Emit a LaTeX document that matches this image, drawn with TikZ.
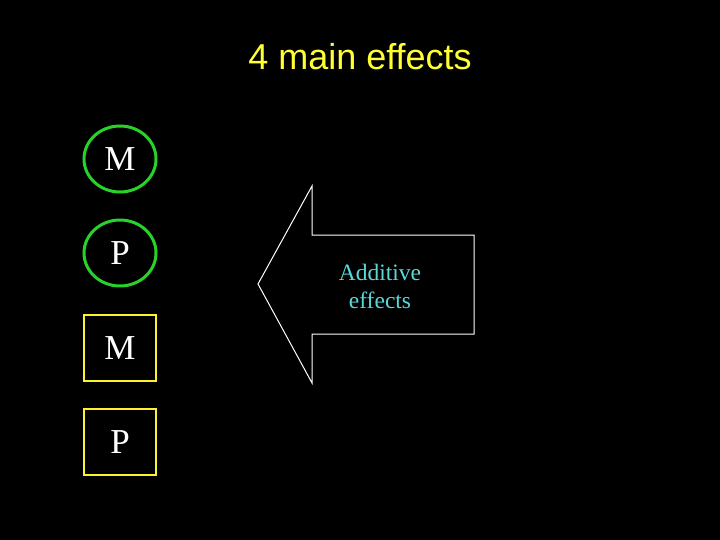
\documentclass[tikz,border=0pt]{standalone}
\usepackage{fontspec}
\setmainfont{Liberation Serif}
\newfontfamily\arialfont{Liberation Sans}
\definecolor{titley}{RGB}{255,255,51}
\definecolor{ringg}{RGB}{40,210,40}
\definecolor{boxy}{RGB}{255,240,50}
\definecolor{turq}{RGB}{90,215,215}
\begin{document}
\begin{tikzpicture}[x=1pt,y=-1pt,
  lettertxt/.style={text=white,font=\fontsize{35}{38}\selectfont,inner sep=0pt}]
\fill[black] (0,0) rectangle (720,540);
\useasboundingbox (0,0) rectangle (720,540);
\node[text=titley,font=\arialfont\fontsize{36}{40}\selectfont,anchor=base] (title) at (360,70) {4 main effects};
\draw[ringg,line width=3pt] (120,159) ellipse [x radius=36, y radius=33];
\node[lettertxt] (m1) at (120,159) {M};
\draw[ringg,line width=3pt] (120,253) ellipse [x radius=36, y radius=33];
\node[lettertxt] (p1) at (120,253) {P};
\draw[boxy,line width=2.5pt] (84,315) rectangle (156,381);
\node[lettertxt] (m2) at (120,348) {M};
\draw[boxy,line width=2.5pt] (84,409) rectangle (156,475);
\node[lettertxt] (p2) at (120,442) {P};
\draw[white,line width=1pt,line join=miter] (258,284) -- (312,186) -- (312,235) -- (474,235) -- (474,334) -- (312,334) -- (312,383) -- cycle;
\node[text=turq,font=\fontsize{23.5}{28}\selectfont,align=center] (add) at (380,286) {Additive\\effects};
\end{tikzpicture}
\end{document}
